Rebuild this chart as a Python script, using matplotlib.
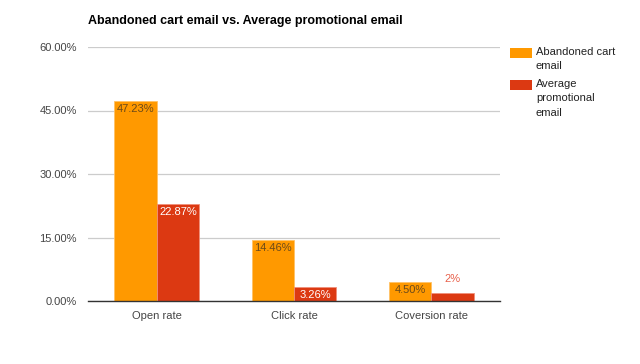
import matplotlib
matplotlib.use("Agg")
import matplotlib.pyplot as plt
import numpy as np
from matplotlib.patches import Rectangle

plt.rcParams['font.family'] = ['Liberation Sans', 'DejaVu Sans']

categories = ["Open rate", "Click rate", "Coversion rate"]
series_names = ["Abandoned cart\nemail", "Average\npromotional\nemail"]
abandoned = [47.23, 14.46, 4.50]
promotional = [22.87, 3.26, 2.0]
abandoned_labels = ["47.23%", "14.46%", "4.50%"]
promotional_labels = ["22.87%", "3.26%", "2%"]
yticks = [0, 15, 30, 45, 60]
ytick_labels = ["0.00%", "15.00%", "30.00%", "45.00%", "60.00%"]

c_orange = "#ff9900"
c_red = "#dc3912"

W, H = 640, 364
fig = plt.figure(figsize=(6.4, 3.64), dpi=100)
ax = fig.add_axes([88 / W, 1 - 301 / H, 412 / W, (301 - 47) / H])

x = np.arange(len(categories))
bw = 0.308
ax.bar(x - bw / 2, abandoned, bw, color=c_orange, edgecolor="#ffc266", linewidth=0.6, zorder=3)
ax.bar(x + bw / 2, promotional, bw, color=c_red, edgecolor="#f0907a", linewidth=0.6, zorder=3)

ax.set_xlim(-0.5, 2.5)
ax.set_ylim(0, 60)
ax.set_yticks(yticks)
ax.set_yticklabels(ytick_labels)
ax.set_xticks(x)
ax.set_xticklabels(categories)
ax.tick_params(axis='both', length=0, labelsize=8, colors="#444444")
ax.tick_params(axis='y', pad=8)
ax.tick_params(axis='x', pad=7)
for s in ["top", "right", "left"]:
    ax.spines[s].set_visible(False)
ax.spines["bottom"].set_color("#333333")
ax.spines["bottom"].set_linewidth(1.0)
ax.spines["bottom"].set_zorder(4)
ax.yaxis.grid(True, color="#cccccc", linewidth=0.9, zorder=0)

# Data labels
for i, (v, lab) in enumerate(zip(abandoned, abandoned_labels)):
    ax.annotate(lab, (x[i] - bw / 2, v), xytext=(0, -2), textcoords="offset points",
                ha="center", va="top", fontsize=8, color="#6b4a1a", zorder=5)
for i, (v, lab) in enumerate(zip(promotional, promotional_labels)):
    if v > 3:
        ax.annotate(lab, (x[i] + bw / 2, v), xytext=(0, -2), textcoords="offset points",
                    ha="center", va="top", fontsize=8, color="white", zorder=5)
    else:
        ax.annotate(lab, (x[i] + bw / 2, v), xytext=(0, 6), textcoords="offset points",
                    ha="center", va="bottom", fontsize=8, color="#e8604a", zorder=5)

fig.text(88 / W, 1 - 21 / H, "Abandoned cart email vs. Average promotional email",
         fontsize=9, fontweight="bold", color="#000000", va="center", ha="left")

# Legend
legend_items = [(series_names[0], c_orange, 48), (series_names[1], c_red, 80)]
for name, col, ytop in legend_items:
    fig.patches.append(Rectangle((510 / W, 1 - (ytop + 10) / H), 22 / W, 10 / H,
                                 transform=fig.transFigure, facecolor=col,
                                 edgecolor="none", figure=fig))
    fig.text(536 / W, 1 - (ytop - 1) / H, name, fontsize=8, color="#222222",
             va="top", ha="left", linespacing=1.55)

fig.savefig("out.png", dpi=100)
